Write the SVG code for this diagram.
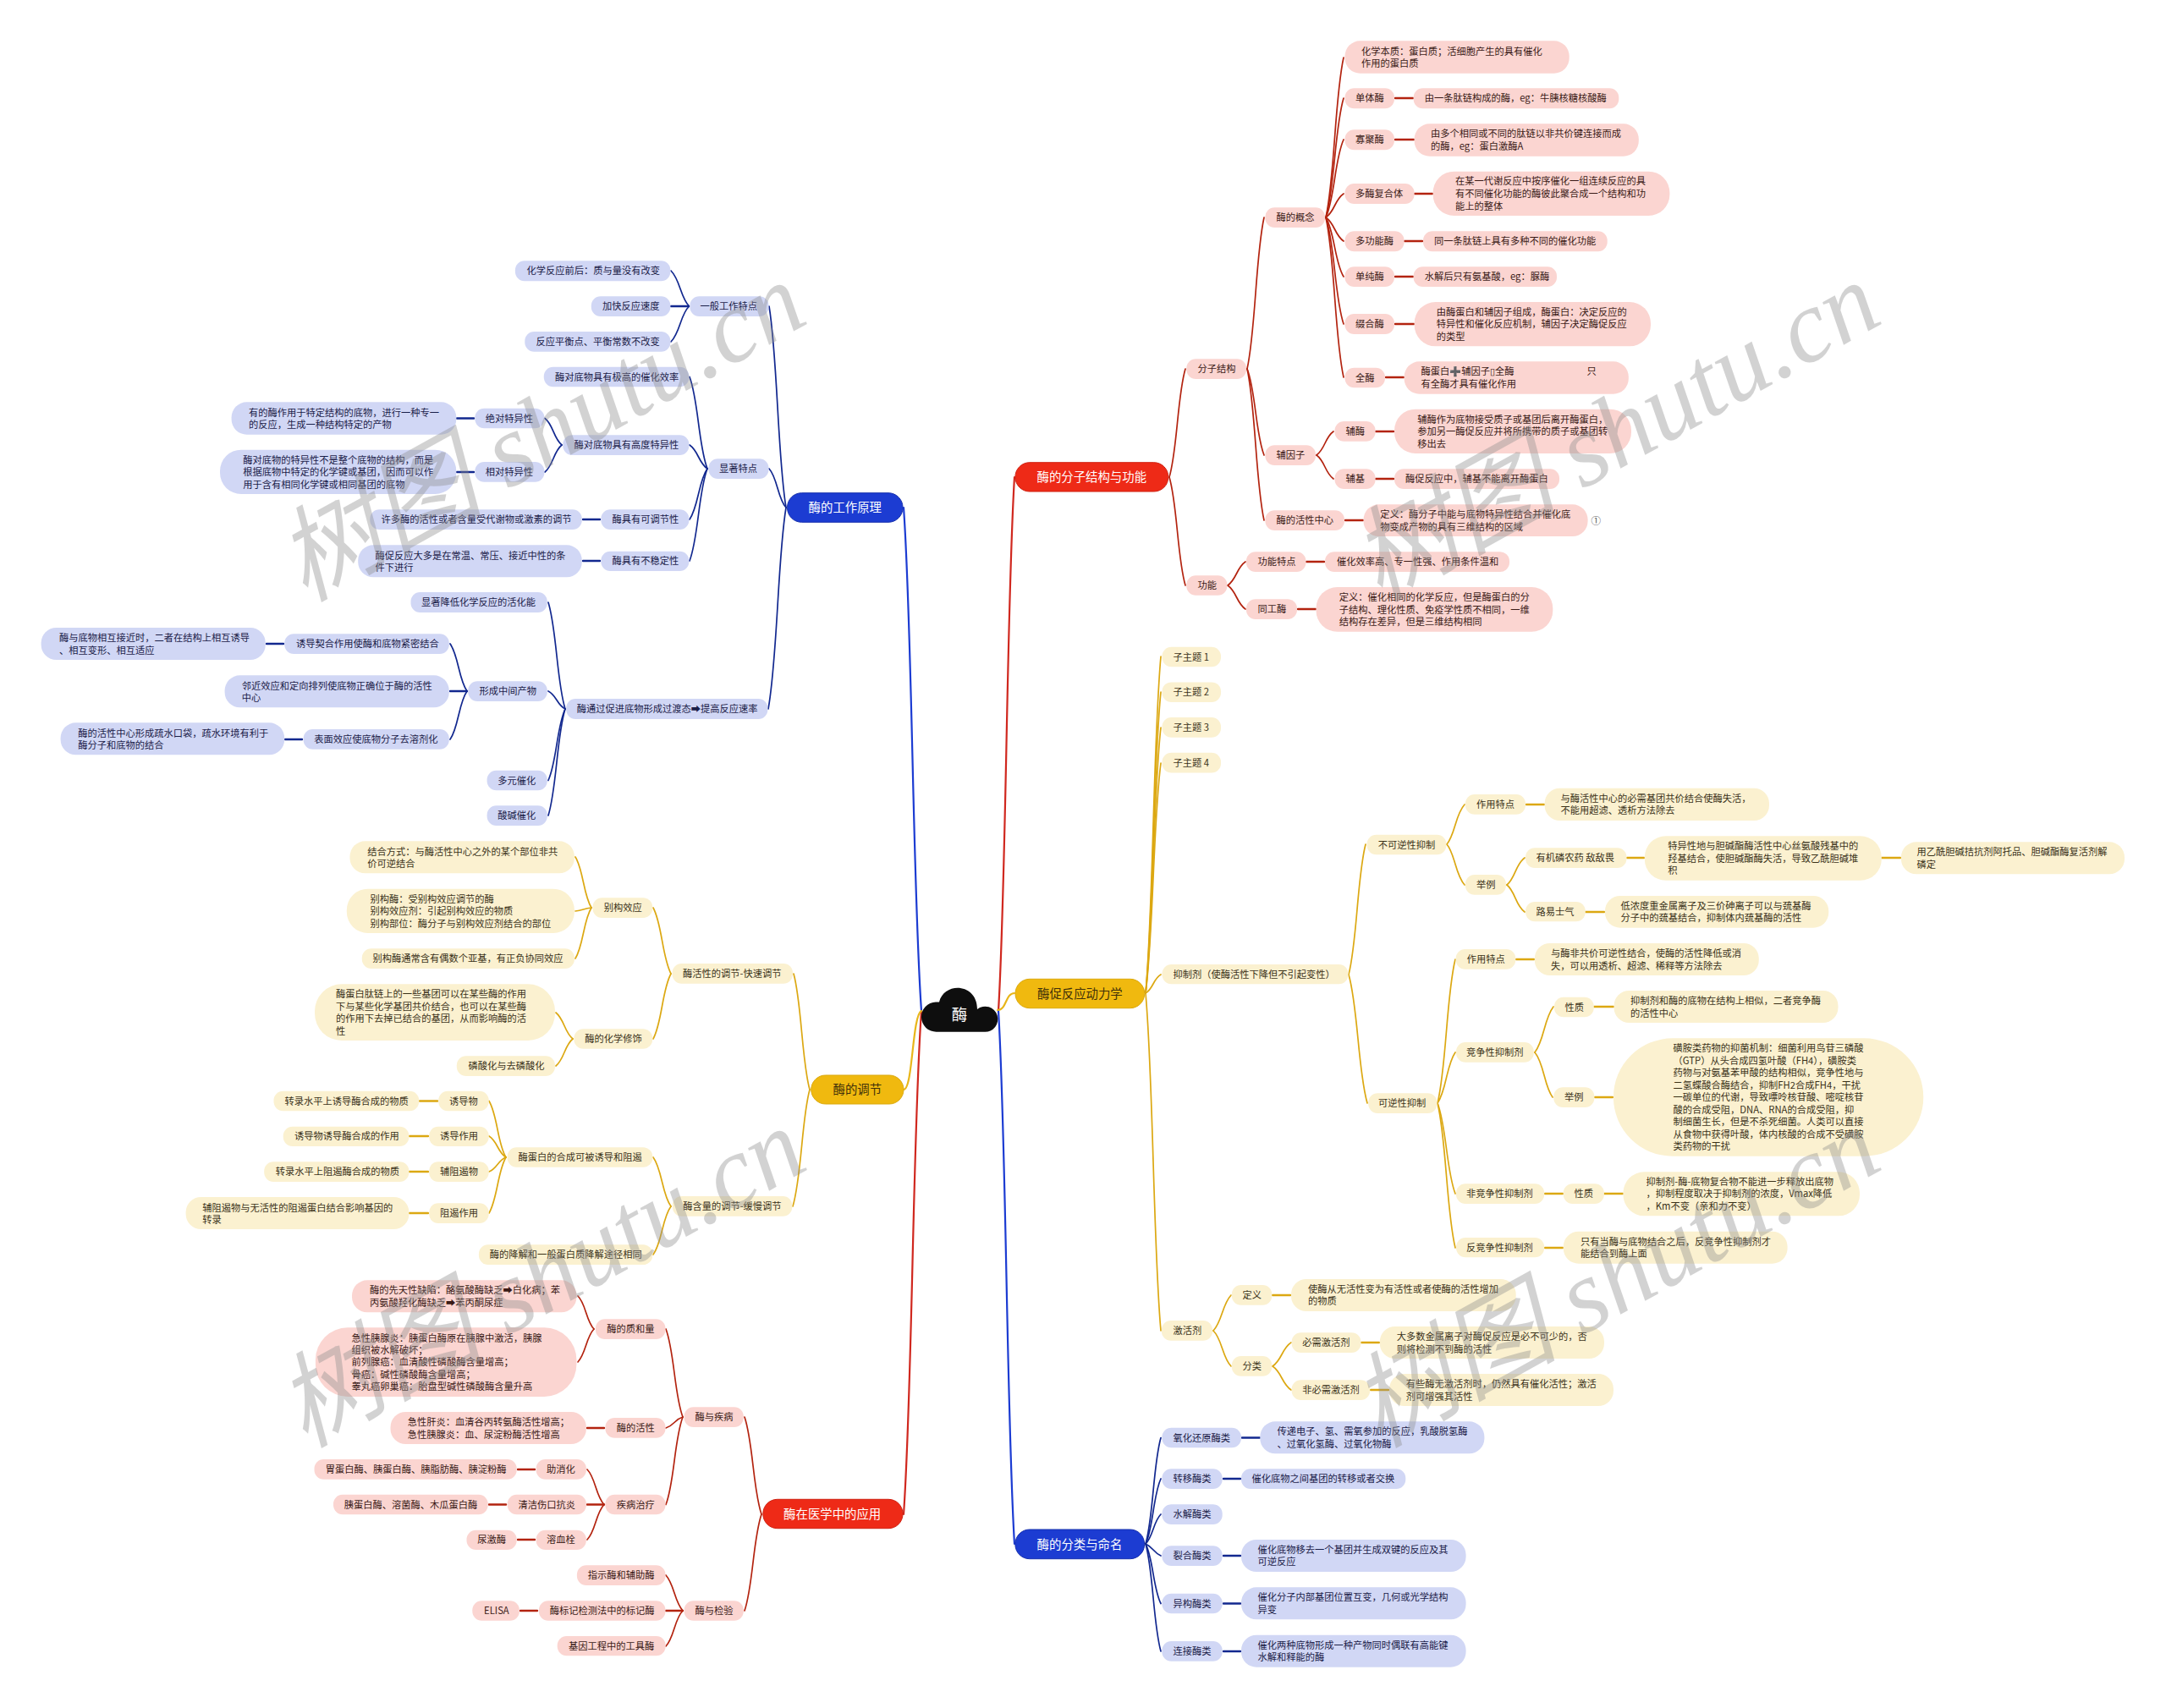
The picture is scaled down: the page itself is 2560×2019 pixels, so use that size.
<svg xmlns="http://www.w3.org/2000/svg" width="2560" height="2019" viewBox="0 0 2560 2019">
<style>
text{font-family:"Noto Sans CJK SC","Noto Sans",sans-serif;font-size:11.25px}
.R rect{fill:#fbd5d1}.R text{fill:#3a1a16}
.B rect{fill:#d1d7f5}.B text{fill:#1a2048}
.Y rect{fill:#fbf1d0}.Y text{fill:#3a3118}
.s rect{rx:11px}.d rect{rx:18px}.t rect{rx:25px}
.m rect{rx:17px;stroke-width:1}.m text{font-size:14.4px}
.R.m rect{fill:#ee2a17;stroke:#cf2212}.R.m text{fill:#fff}
.B.m rect{fill:#1c3cd2;stroke:#1730ad}.B.m text{fill:#fff}
.Y.m rect{fill:#f0b90f;stroke:#dba90e}.Y.m text{fill:#40300a}
#connectors path{fill:none;stroke-linecap:round}
.a{stroke-width:2.2}.b{stroke-width:1.7}.l{stroke-width:2.4}
.ra{stroke:#d0281f}.ba{stroke:#1c3cd2}.ya{stroke:#e8b61a}
.rb{stroke:#b3230f}.bb{stroke:#12288f}.yb{stroke:#dca812}
.wm{font-family:"Liberation Serif","Noto Sans CJK SC",serif;font-size:122px;font-style:italic;fill:#8c8c8c;opacity:.38}
</style>
<g id="connectors">
<g class="a ra">
<path d="M1180 1195C1189.500 1037 1189.500 722 1199 564"/>
<path d="M1089 1195C1078.500 1344 1078.500 1641 1068 1790"/>
</g>
<g class="a ba">
<path d="M1180 1195C1189.500 1353 1189.500 1667 1199 1825"/>
<path d="M1089 1195C1078.500 1046 1078.500 749 1068 600"/>
</g>
<g class="a ya">
<path d="M1179 1194C1190 1194 1188 1174 1199 1174"/>
<path d="M1089 1195C1078 1200 1079 1288 1068 1288"/>
</g>
<g class="b rb">
<path d="M1382 564C1391.500 532 1391.500 468 1401 436"/>
<path d="M1382 564C1391.500 596 1391.500 660 1401 692"/>
<path d="M1474 436C1484 391 1484 302 1494 257"/>
<path d="M1474 436C1484 461 1484 513 1494 538"/>
<path d="M1474 436C1484 481 1484 570 1494 615"/>
<path d="M1567 257C1577.500 210 1577.500 115 1588 68"/>
<path d="M1567 257C1577.500 222 1577.500 151 1588 116"/>
<path d="M1567 257C1577.500 234 1577.500 188 1588 165"/>
<path d="M1567 257C1577.500 250 1577.500 236 1588 229"/>
<path d="M1567 257C1577.500 264 1577.500 278 1588 285"/>
<path d="M1567 257C1577.500 275 1577.500 310 1588 327"/>
<path d="M1567 257C1577.500 288 1577.500 352 1588 383"/>
<path d="M1567 257C1577.500 304 1577.500 399 1588 446"/>
<path d="M1556 538C1566 531 1566 517 1576 510"/>
<path d="M1556 538C1566 545 1566 559 1576 566"/>
<path d="M1451 692C1461.500 685 1461.500 671 1472 664"/>
<path d="M1451 692C1461.500 699 1461.500 713 1472 720"/>
<path d="M900 1790C890 1761 890 1704 880 1675"/>
<path d="M900 1790C890 1819 890 1875 880 1904"/>
<path d="M807 1675C797 1649 797 1597 787 1571"/>
<path d="M807 1675C797 1678 797 1685 787 1688"/>
<path d="M807 1675C797 1701 797 1753 787 1778.500"/>
<path d="M702 1571C692.500 1561 692.500 1541 683 1532"/>
<path d="M702 1571C692.500 1581 692.500 1600 683 1610"/>
<path d="M714 1778.500C704 1768 704 1747 694 1737"/>
<path d="M714 1778.500C704 1789 704 1810 694 1820"/>
<path d="M807 1904C797 1893 797 1873 787 1862"/>
<path d="M807 1904C797 1914 797 1935 787 1946"/>
</g>
<g class="l rb">
<path d="M1649 116H1670"/><path d="M1649 165H1671"/><path d="M1672 229H1693"/><path d="M1660 285H1681"/><path d="M1649 327H1670"/><path d="M1649 383H1671"/><path d="M1638 446H1659"/>
<path d="M1626 510H1647"/><path d="M1626 566H1647"/><path d="M1590 615H1611"/><path d="M1544 664H1565"/><path d="M1534 720H1555"/>
<path d="M714 1688H694"/><path d="M714 1778.500H694"/><path d="M632 1737H612"/><path d="M598 1778.500H578"/><path d="M632 1820H612"/><path d="M807 1904H787"/><path d="M635 1904H615"/>
</g>
<g class="b yb">
<path d="M1354 1174C1363 1074 1363 876 1372 776"/>
<path d="M1354 1174C1363 1085 1363 907 1372 818"/>
<path d="M1354 1174C1363 1095 1363 939 1372 860"/>
<path d="M1354 1174C1363 1106 1363 970 1372 902"/>
<path d="M1354 1174C1363 1169 1363 1157 1372 1152"/>
<path d="M1354 1174C1363 1274 1363 1473 1372 1573"/>
<path d="M1594 1152C1604 1113 1604 1037 1614 998"/>
<path d="M1594 1152C1605 1190 1605 1266 1616 1304"/>
<path d="M1710 998C1720 986 1720 963 1731 951"/>
<path d="M1710 998C1720 1010 1720 1034 1731 1046"/>
<path d="M1781 1046C1791 1038 1791 1022 1802 1014"/>
<path d="M1781 1046C1791 1054 1791 1070 1802 1078"/>
<path d="M1699 1304C1709.500 1262 1709.500 1176 1720 1134"/>
<path d="M1699 1304C1709.500 1289 1709.500 1259 1720 1244"/>
<path d="M1699 1304C1709.500 1331 1709.500 1384 1720 1411"/>
<path d="M1699 1304C1709.500 1347 1709.500 1432 1720 1475"/>
<path d="M1814 1244C1825 1230 1825 1204 1836 1190"/>
<path d="M1814 1244C1825 1257 1825 1284 1835 1297"/>
<path d="M1434 1573C1444.500 1562 1444.500 1542 1455 1531"/>
<path d="M1434 1573C1444.500 1583 1444.500 1604 1455 1615"/>
<path d="M1504 1615C1515 1608 1515 1594 1526 1587"/>
<path d="M1504 1615C1515 1622 1515 1636 1526 1643"/>
<path d="M957 1288C947.500 1254 947.500 1185 938 1151"/>
<path d="M957 1288C947.500 1322 947.500 1391 937 1426"/>
<path d="M793 1151C782.500 1131 782.500 1092 772 1073"/>
<path d="M793 1151C782.500 1170 782.500 1209 772 1228"/>
<path d="M699 1073C689.500 1058 689.500 1028 680 1013"/>
<path d="M699 1073C689.500 1074 689.500 1076 680 1077"/>
<path d="M699 1073C689.500 1088 689.500 1118 680 1133"/>
<path d="M677 1228C667 1220 667 1205 657 1197"/>
<path d="M677 1228C667 1236 667 1252 657 1260"/>
<path d="M793 1426C782.500 1412 782.500 1382 772 1368"/>
<path d="M793 1426C782.500 1440 782.500 1469 772 1483"/>
<path d="M598 1368C588 1352 588 1318 578 1301.500"/>
<path d="M598 1368C588 1362 588 1349 578 1343"/>
<path d="M598 1368C588 1372 588 1381 578 1385"/>
<path d="M598 1368C588 1385 588 1417 578 1434"/>
</g>
<g class="l yb">
<path d="M1804 951H1825"/><path d="M1923 1014H1943"/><path d="M2224 1014H2246"/><path d="M1874 1078H1896"/><path d="M1792 1134H1813"/>
<path d="M1884 1190H1907"/><path d="M1885 1297H1906"/><path d="M1826 1411H1847"/><path d="M1896 1411H1918"/><path d="M1826 1475H1847"/>
<path d="M1504 1531H1525"/><path d="M1609 1587H1630"/><path d="M1620 1643H1641"/>
<path d="M517 1301.500H496"/><path d="M506 1343H484"/><path d="M506 1385H484"/><path d="M506 1434H484"/>
</g>
<g class="b bb">
<path d="M1354 1825C1363 1794 1363 1731 1372 1699.500"/>
<path d="M1354 1825C1363 1806 1363 1767 1372 1748"/>
<path d="M1354 1825C1363 1816 1363 1799 1372 1790"/>
<path d="M1354 1825C1363 1829 1363 1835 1372 1839"/>
<path d="M1354 1825C1363 1843 1363 1878 1372 1895.500"/>
<path d="M1354 1825C1363 1857 1363 1920 1372 1952"/>
<path d="M929 600C919 540 919 422 909 362"/>
<path d="M929 600C919 589 919 565 909 554"/>
<path d="M929 600C919 660 919 778 908 838"/>
<path d="M814.500 362C804 351 804 331 793 320"/>
<path d="M814.500 362C804 372 804 393 793 404"/>
<path d="M836 554C825.500 527 825.500 473 815 445.500"/>
<path d="M836 554C825.500 547 825.500 533 815 526"/>
<path d="M836 554C825.500 569 825.500 599 815 614"/>
<path d="M836 554C825.500 581 825.500 636 815 663"/>
<path d="M664 526C654 518 654 502 644 494.500"/>
<path d="M664 526C654 534 654 550 644 558"/>
<path d="M668 838C658 806 658 744 648 712"/>
<path d="M668 838C658 833 658 822 648 817"/>
<path d="M668 838C658 859 658 901 648 922.500"/>
<path d="M668 838C658 870 658 932 648 964"/>
<path d="M552 817C542 803 542 775 532 761"/>
<path d="M552 817C542 831 542 860 532 874"/>
</g>
<g class="l bb">
<path d="M1468 1699.500H1489"/><path d="M1446 1748H1466"/><path d="M1446 1839H1466"/><path d="M1446 1895.500H1466"/><path d="M1446 1952H1466"/>
<path d="M814 362H793"/><path d="M560 494.500H540"/><path d="M560 558H540"/><path d="M709 614H689"/><path d="M709 663H689"/>
<path d="M552 817H532"/><path d="M335 761H315"/><path d="M357 874H337"/>
</g>
</g>

<g id="root">
<path d="M1107 1219.700a17.500 17.500 0 0 1-1-35.200L1110 1184.500C1116 1160 1155 1162 1155 1193A15 15 0 1 1 1163.500 1219.700Z" fill="#0e0e0e"/>
<text x="1134" y="1205.500" text-anchor="middle" style="font-size:18.500px" fill="#fff">酶</text>
</g>

<g id="m1" class="R m"><rect x="1199.900" y="546.700" width="180.900" height="34.300"/><text x="1225.500" y="569">酶的分子结构与功能</text></g>
<g id="m2" class="Y m"><rect x="1200" y="1157.300" width="152.700" height="34.400"/><text x="1226" y="1179.700">酶促反应动力学</text></g>
<g id="m3" class="B m"><rect x="1199.900" y="1808" width="152.700" height="34.700"/><text x="1225.600" y="1830.500">酶的分类与命名</text></g>
<g id="m4" class="B m"><rect x="930.500" y="582.700" width="136.500" height="34.600"/><text x="955.600" y="605.200">酶的工作原理</text></g>
<g id="m5" class="Y m"><rect x="958.700" y="1271" width="109.300" height="34"/><text x="984.500" y="1293">酶的调节</text></g>
<g id="m6" class="R m"><rect x="901.800" y="1772.300" width="165.200" height="34.400"/><text x="926.100" y="1794.700">酶在医学中的应用</text></g>

<g id="r1" class="R d"><rect x="1589.500" y="48.300" width="265.200" height="38.400"/><text><tspan x="1609" y="64.700">化学本质：蛋白质；活细胞产生的具有催化</tspan><tspan x="1609" y="79">作用的蛋白质</tspan></text></g>
<g id="r2" class="R s"><rect x="1589.500" y="104.300" width="58.500" height="24"/><text x="1602" y="120.300">单体酶</text></g>
<g id="r3" class="R s"><rect x="1670.600" y="104.300" width="242.700" height="24"/><text x="1683.700" y="120.300">由一条肽链构成的酶，eg：牛胰核糖核酸酶</text></g>
<g id="r4" class="R s"><rect x="1589.500" y="153.300" width="58.500" height="24"/><text x="1602" y="169.300">寡聚酶</text></g>
<g id="r5" class="R d"><rect x="1671.600" y="146.300" width="265.200" height="38.400"/><text><tspan x="1691" y="162.300">由多个相同或不同的肽链以非共价键连接而成</tspan><tspan x="1691" y="177">的酶，eg：蛋白激酶A</tspan></text></g>
<g id="r6" class="R s"><rect x="1589.500" y="217" width="82.100" height="24"/><text x="1602" y="233">多酶复合体</text></g>
<g id="r7" class="R t"><rect x="1693.600" y="202.700" width="279.800" height="52.300"/><text><tspan x="1720" y="218.300">在某一代谢反应中按序催化一组连续反应的具</tspan><tspan x="1720" y="233">有不同催化功能的酶彼此聚合成一个结构和功</tspan><tspan x="1720" y="247.700">能上的整体</tspan></text></g>
<g id="r8" class="R s"><rect x="1589.500" y="273.300" width="70.100" height="24"/><text x="1602" y="289.300">多功能酶</text></g>
<g id="r9" class="R s"><rect x="1682" y="273.300" width="217.700" height="24"/><text x="1695" y="289.300">同一条肽链上具有多种不同的催化功能</text></g>
<g id="r10" class="R s"><rect x="1589.500" y="315.300" width="58.500" height="23.700"/><text x="1602" y="331.300">单纯酶</text></g>
<g id="r11" class="R s"><rect x="1670.600" y="315.300" width="169.400" height="23.700"/><text x="1683.700" y="331.300">水解后只有氨基酸，eg：脲酶</text></g>
<g id="r12" class="R s"><rect x="1589.500" y="371" width="58.500" height="24"/><text x="1602" y="387">缀合酶</text></g>
<g id="r13" class="R t"><rect x="1671.600" y="357" width="279.400" height="52.300"/><text><tspan x="1697.800" y="373">由酶蛋白和辅因子组成，酶蛋白：决定反应的</tspan><tspan x="1697.800" y="387.300">特异性和催化反应机制，辅因子决定酶促反应</tspan><tspan x="1697.800" y="401.700">的类型</tspan></text></g>
<g id="r14" class="R s"><rect x="1589.500" y="434.700" width="47.500" height="23.600"/><text x="1602" y="450.500">全酶</text></g>
<g id="r15" class="R d"><rect x="1659.600" y="427.300" width="265.200" height="38.400"/><text><tspan x="1679.500" y="443.300">酶蛋白➕辅因子▯全酶</tspan><tspan x="1875.600" y="443.300">只</tspan><tspan x="1679.500" y="458">有全酶才具有催化作用</tspan></text></g>
<g id="r16" class="R s"><rect x="1495.400" y="245.300" width="70.600" height="23.700"/><text x="1508.500" y="261.200">酶的概念</text></g>
<g id="r17" class="R s"><rect x="1402.300" y="424.300" width="70.700" height="23.700"/><text x="1415.400" y="440.200">分子结构</text></g>
<g id="r18" class="R s"><rect x="1577.500" y="498" width="48.100" height="23.700"/><text x="1590.600" y="513.800">辅酶</text></g>
<g id="r19" class="R t"><rect x="1648" y="483.700" width="280" height="52.300"/><text><tspan x="1675.300" y="499.700">辅酶作为底物接受质子或基团后离开酶蛋白，</tspan><tspan x="1675.300" y="514.300">参加另一酶促反应并将所携带的质子或基团转</tspan><tspan x="1675.300" y="529">移出去</tspan></text></g>
<g id="r20" class="R s"><rect x="1577.500" y="554.300" width="48.100" height="23.700"/><text x="1590.600" y="570.200">辅基</text></g>
<g id="r21" class="R s"><rect x="1648" y="554.300" width="195" height="23.700"/><text x="1661" y="570.200">酶促反应中，辅基不能离开酶蛋白</text></g>
<g id="r22" class="R s"><rect x="1495.400" y="526.300" width="59.600" height="23.700"/><text x="1508.500" y="542.200">辅因子</text></g>
<g id="r23" class="R s"><rect x="1495.400" y="603.300" width="93.600" height="23.700"/><text x="1508.500" y="619.200">酶的活性中心</text></g>
<g id="r24" class="R d"><rect x="1611.500" y="596.300" width="265.100" height="37.700"/><text><tspan x="1631.300" y="612.300">定义：酶分子中能与底物特异性结合并催化底</tspan><tspan x="1631.300" y="627">物变成产物的具有三维结构的区域</tspan></text></g>
<text id="r24mark" x="1880.500" y="619.500" style="font-size:11.500px" fill="#555">①</text>
<g id="r25" class="R s"><rect x="1472.900" y="652.300" width="70.600" height="23.700"/><text x="1486.500" y="668.200">功能特点</text></g>
<g id="r26" class="R s"><rect x="1566" y="652.300" width="218" height="23.700"/><text x="1580" y="668.200">催化效率高、专一性强、作用条件温和</text></g>
<g id="r27" class="R s"><rect x="1402.300" y="680.300" width="48.100" height="23.400"/><text x="1415.400" y="696">功能</text></g>
<g id="r28" class="R s"><rect x="1472.900" y="708.300" width="60.100" height="23.700"/><text x="1486.500" y="724.200">同工酶</text></g>
<g id="r29" class="R t"><rect x="1555.500" y="694" width="279.800" height="52.700"/><text><tspan x="1582.700" y="710.300">定义：催化相同的化学反应，但是酶蛋白的分</tspan><tspan x="1582.700" y="724.700">子结构、理化性质、免疫学性质不相同，一维</tspan><tspan x="1582.700" y="739">结构存在差异，但是三维结构相同</tspan></text></g>

<g id="y1" class="Y s"><rect x="1373.500" y="764.700" width="69.500" height="23.600"/><text x="1386.600" y="780.500">子主题 1</text></g>
<g id="y2" class="Y s"><rect x="1373.500" y="806.400" width="69.500" height="23.600"/><text x="1386.600" y="822.200">子主题 2</text></g>
<g id="y3" class="Y s"><rect x="1373.500" y="848.100" width="69.500" height="23.600"/><text x="1386.600" y="863.900">子主题 3</text></g>
<g id="y4" class="Y s"><rect x="1373.500" y="889.800" width="69.500" height="23.600"/><text x="1386.600" y="905.600">子主题 4</text></g>
<g id="y5" class="Y s"><rect x="1373.500" y="1140" width="220" height="23.300"/><text x="1386.600" y="1155.700">抑制剂（使酶活性下降但不引起变性）</text></g>
<g id="y6" class="Y s"><rect x="1615.600" y="986.700" width="93.800" height="23.600"/><text x="1628.800" y="1002.500">不可逆性抑制</text></g>
<g id="y7" class="Y s"><rect x="1731.900" y="939" width="71.100" height="23.700"/><text x="1745" y="954.800">作用特点</text></g>
<g id="y8" class="Y d"><rect x="1825.600" y="931.700" width="265.400" height="38.300"/><text><tspan x="1844.400" y="947.700">与酶活性中心的必需基团共价结合使酶失活，</tspan><tspan x="1844.400" y="962.300">不能用超滤、透析方法除去</tspan></text></g>
<g id="y9" class="Y s"><rect x="1731.900" y="1034" width="48.100" height="23.700"/><text x="1745" y="1049.800">举例</text></g>
<g id="y10" class="Y s"><rect x="1803" y="1002.300" width="119.500" height="23.700"/><text x="1815.600" y="1018.200">有机磷农药 敌敌畏</text></g>
<g id="y11" class="Y t"><rect x="1943.800" y="988.300" width="280" height="52.400"/><text><tspan x="1971.300" y="1004">特异性地与胆碱酯酶活性中心丝氨酸残基中的</tspan><tspan x="1971.300" y="1018.700">羟基结合，使胆碱酯酶失活，导致乙酰胆碱堆</tspan><tspan x="1971.300" y="1032.700">积</tspan></text></g>
<g id="y12" class="Y d"><rect x="2246.900" y="995.300" width="264.100" height="38"/><text><tspan x="2265.600" y="1011.300">用乙酰胆碱拮抗剂阿托品、胆碱酯酶复活剂解</tspan><tspan x="2265.600" y="1026">磷定</tspan></text></g>
<g id="y13" class="Y s"><rect x="1803" y="1066" width="70.800" height="23.300"/><text x="1815.600" y="1081.700">路易士气</text></g>
<g id="y14" class="Y d"><rect x="1896.900" y="1059" width="264.400" height="37.700"/><text><tspan x="1915.600" y="1075">低浓度重金属离子及三价砷离子可以与巯基酶</tspan><tspan x="1915.600" y="1089">分子中的巯基结合，抑制体内巯基酶的活性</tspan></text></g>
<g id="y15" class="Y s"><rect x="1617.200" y="1292.300" width="81.300" height="23.700"/><text x="1629" y="1308.200">可逆性抑制</text></g>
<g id="y16" class="Y s"><rect x="1720.600" y="1122" width="70.700" height="23.700"/><text x="1733.800" y="1137.800">作用特点</text></g>
<g id="y17" class="Y d"><rect x="1813.800" y="1115" width="265" height="38"/><text><tspan x="1833" y="1131.300">与酶非共价可逆性结合，使酶的活性降低或消</tspan><tspan x="1833" y="1145.700">失，可以用透析、超滤、稀释等方法除去</tspan></text></g>
<g id="y18" class="Y s"><rect x="1721" y="1232" width="91.800" height="23.700"/><text x="1732.900" y="1247.800">竞争性抑制剂</text></g>
<g id="y19" class="Y s"><rect x="1836.900" y="1178.700" width="46.900" height="23.600"/><text x="1849.400" y="1194.500">性质</text></g>
<g id="y20" class="Y d"><rect x="1907.500" y="1171" width="265" height="38"/><text><tspan x="1926.900" y="1187.300">抑制剂和酶的底物在结构上相似，二者竞争酶</tspan><tspan x="1926.900" y="1201.700">的活性中心</tspan></text></g>
<g id="y21" class="Y s"><rect x="1836.200" y="1285.300" width="48.200" height="23.700"/><text x="1849" y="1301.200">举例</text></g>
<g id="y22" class="Y"><rect x="1906.900" y="1227.300" width="366.400" height="139.400" rx="70"/><text><tspan x="1977.600" y="1243.300">磺胺类药物的抑菌机制：细菌利用鸟苷三磷酸</tspan><tspan x="1977.600" y="1258">（GTP）从头合成四氢叶酸（FH4），磺胺类</tspan><tspan x="1977.600" y="1272.300">药物与对氨基苯甲酸的结构相似，竞争性地与</tspan><tspan x="1977.600" y="1286.700">二氢蝶酸合酶结合，抑制FH2合成FH4，干扰</tspan><tspan x="1977.600" y="1301">一碳单位的代谢，导致嘌呤核苷酸、嘧啶核苷</tspan><tspan x="1977.600" y="1315.700">酸的合成受阻，DNA、RNA的合成受阻，抑</tspan><tspan x="1977.600" y="1330.300">制细菌生长，但是不杀死细菌。人类可以直接</tspan><tspan x="1977.600" y="1345">从食物中获得叶酸，体内核酸的合成不受磺胺</tspan><tspan x="1977.600" y="1359">类药物的干扰</tspan></text></g>
<g id="y23" class="Y s"><rect x="1721" y="1399.300" width="104.200" height="23.700"/><text x="1732.900" y="1415.200">非竞争性抑制剂</text></g>
<g id="y24" class="Y s"><rect x="1847.700" y="1399.300" width="48.200" height="23.700"/><text x="1860.500" y="1415.200">性质</text></g>
<g id="y25" class="Y t"><rect x="1918.400" y="1385.300" width="279.600" height="52"/><text><tspan x="1945.500" y="1401">抑制剂-酶-底物复合物不能进一步释放出底物</tspan><tspan x="1945.500" y="1415.300">，抑制程度取决于抑制剂的浓度，Vmax降低</tspan><tspan x="1945.500" y="1429.700">，Km不变（亲和力不变）</tspan></text></g>
<g id="y26" class="Y s"><rect x="1721" y="1463" width="104.200" height="23.300"/><text x="1732.900" y="1478.700">反竞争性抑制剂</text></g>
<g id="y27" class="Y d"><rect x="1847.700" y="1455.700" width="264.900" height="38"/><text><tspan x="1867.900" y="1471.700">只有当酶与底物结合之后，反竞争性抑制剂才</tspan><tspan x="1867.900" y="1486">能结合到酶上面</tspan></text></g>
<g id="y28" class="Y s"><rect x="1372.900" y="1561" width="60.100" height="23.700"/><text x="1386.500" y="1576.800">激活剂</text></g>
<g id="y29" class="Y s"><rect x="1455.800" y="1519" width="47.500" height="23.700"/><text x="1468.400" y="1534.800">定义</text></g>
<g id="y30" class="Y d"><rect x="1526" y="1512" width="265.700" height="38"/><text><tspan x="1546" y="1527.700">使酶从无活性变为有活性或者使酶的活性增加</tspan><tspan x="1546" y="1542">的物质</tspan></text></g>
<g id="y31" class="Y s"><rect x="1455.800" y="1603" width="47.500" height="23.700"/><text x="1468.400" y="1618.800">分类</text></g>
<g id="y32" class="Y s"><rect x="1526.600" y="1575.300" width="81.900" height="23.700"/><text x="1539.200" y="1591.200">必需激活剂</text></g>
<g id="y33" class="Y d"><rect x="1630.800" y="1568" width="265.200" height="38"/><text><tspan x="1650.700" y="1584">大多数金属离子对酶促反应是必不可少的，否</tspan><tspan x="1650.700" y="1598.700">则将检测不到酶的活性</tspan></text></g>
<g id="y34" class="Y s"><rect x="1526.600" y="1631.300" width="92.600" height="23.700"/><text x="1539.200" y="1647.200">非必需激活剂</text></g>
<g id="y35" class="Y d"><rect x="1642" y="1624" width="265" height="38"/><text><tspan x="1661.800" y="1640">有些酶无激活剂时，仍然具有催化活性；激活</tspan><tspan x="1661.800" y="1654.700">剂可增强其活性</tspan></text></g>

<g id="b1" class="B s"><rect x="1373.400" y="1687.700" width="93.600" height="23.600"/><text x="1386.500" y="1703.500">氧化还原酶类</text></g>
<g id="b2" class="B d"><rect x="1489.300" y="1680.300" width="265.100" height="38"/><text><tspan x="1509.600" y="1696.300">传递电子、氢、需氧参加的反应，乳酸脱氢酶</tspan><tspan x="1509.600" y="1710.700">、过氧化氢酶、过氧化物酶</tspan></text></g>
<g id="b3" class="B s"><rect x="1373.400" y="1736.300" width="71.300" height="23.700"/><text x="1386.500" y="1752.200">转移酶类</text></g>
<g id="b4" class="B s"><rect x="1467" y="1736.300" width="194.300" height="23.700"/><text x="1479.600" y="1752.200">催化底物之间基团的转移或者交换</text></g>
<g id="b5" class="B s"><rect x="1373.400" y="1778.300" width="71.300" height="23.700"/><text x="1386.500" y="1794.200">水解酶类</text></g>
<g id="b6" class="B s"><rect x="1373.400" y="1827.300" width="71.300" height="23.700"/><text x="1386.500" y="1843.200">裂合酶类</text></g>
<g id="b7" class="B d"><rect x="1467" y="1820" width="265.600" height="38"/><text><tspan x="1486.400" y="1836">催化底物移去一个基团并生成双键的反应及其</tspan><tspan x="1486.400" y="1850.300">可逆反应</tspan></text></g>
<g id="b8" class="B s"><rect x="1373.400" y="1883.700" width="71.300" height="23.600"/><text x="1386.500" y="1899.500">异构酶类</text></g>
<g id="b9" class="B d"><rect x="1467" y="1876.300" width="265.600" height="38"/><text><tspan x="1486.400" y="1892.300">催化分子内部基团位置互变，几何或光学结构</tspan><tspan x="1486.400" y="1906.700">异变</tspan></text></g>
<g id="b10" class="B s"><rect x="1373.400" y="1940" width="71.300" height="23.700"/><text x="1386.500" y="1955.800">连接酶类</text></g>
<g id="b11" class="B d"><rect x="1467" y="1932.700" width="265.600" height="38"/><text><tspan x="1486.400" y="1948.700">催化两种底物形成一种产物同时偶联有高能键</tspan><tspan x="1486.400" y="1963">水解和释能的酶</tspan></text></g>

<g id="l1" class="B s"><rect x="608.900" y="308.300" width="183.500" height="24"/><text x="622.400" y="324.300">化学反应前后：质与量没有改变</text></g>
<g id="l2" class="B s"><rect x="698.800" y="350.300" width="93.600" height="23.700"/><text x="711.900" y="366.200">加快反应速度</text></g>
<g id="l3" class="B s"><rect x="620.300" y="392" width="172.100" height="23.700"/><text x="633.400" y="407.800">反应平衡点、平衡常数不改变</text></g>
<g id="l4" class="B s"><rect x="815.400" y="350.300" width="93.100" height="23.700"/><text x="827.500" y="366.200">一般工作特点</text></g>
<g id="l5" class="B s"><rect x="642.800" y="433.700" width="171.600" height="23.600"/><text x="655.900" y="449.500">酶对底物具有极高的催化效率</text></g>
<g id="l6" class="B d"><rect x="273.600" y="475.300" width="265.700" height="38.400"/><text><tspan x="294" y="491.700">有的酶作用于特定结构的底物，进行一种专一</tspan><tspan x="294" y="506.300">的反应，生成一种结构特定的产物</tspan></text></g>
<g id="l7" class="B s"><rect x="561.300" y="482.700" width="82.100" height="23.600"/><text x="573.800" y="498.500">绝对特异性</text></g>
<g id="l8" class="B s"><rect x="665.300" y="514.300" width="149.100" height="23.700"/><text x="678.400" y="530.200">酶对底物具有高度特异性</text></g>
<g id="l9" class="B t"><rect x="260" y="531.700" width="279.300" height="52.300"/><text><tspan x="287.200" y="548">酶对底物的特异性不是整个底物的结构，而是</tspan><tspan x="287.200" y="562.300">根据底物中特定的化学键或基团，因而可以作</tspan><tspan x="287.200" y="577">用于含有相同化学键或相同基团的底物</tspan></text></g>
<g id="l10" class="B s"><rect x="561.300" y="546" width="82.100" height="23.700"/><text x="573.800" y="561.800">相对特异性</text></g>
<g id="l11" class="B s"><rect x="837.400" y="542.300" width="71.100" height="23.700"/><text x="850" y="558.200">显著特点</text></g>
<g id="l12" class="B s"><rect x="437.300" y="602.300" width="250.500" height="23.700"/><text x="450.400" y="618.200">许多酶的活性或者含量受代谢物或激素的调节</text></g>
<g id="l13" class="B s"><rect x="710.300" y="602.300" width="104.100" height="23.700"/><text x="723.400" y="618.200">酶具有可调节性</text></g>
<g id="l14" class="B d"><rect x="423.200" y="644.300" width="264.600" height="38"/><text><tspan x="443.600" y="660.700">酶促反应大多是在常温、常压、接近中性的条</tspan><tspan x="443.600" y="675">件下进行</tspan></text></g>
<g id="l15" class="B s"><rect x="710.300" y="651.700" width="104.100" height="23.300"/><text x="723.400" y="667.300">酶具有不稳定性</text></g>
<g id="l16" class="B s"><rect x="485.500" y="700" width="161.300" height="24"/><text x="498" y="716">显著降低化学反应的活化能</text></g>
<g id="l17" class="B d"><rect x="48.600" y="742" width="265.200" height="38"/><text><tspan x="69.900" y="758.300">酶与底物相互接近时，二者在结构上相互诱导</tspan><tspan x="69.900" y="773">、相互变形、相互适应</tspan></text></g>
<g id="l18" class="B s"><rect x="336.200" y="749.300" width="194.600" height="23.700"/><text x="350" y="765.200">诱导契合作用使酶和底物紧密结合</text></g>
<g id="l19" class="B d"><rect x="265.600" y="798.300" width="265.200" height="38"/><text><tspan x="285.700" y="814.700">邻近效应和定向排列使底物正确位于酶的活性</tspan><tspan x="285.700" y="829">中心</tspan></text></g>
<g id="l20" class="B s"><rect x="553.200" y="805.300" width="93.600" height="23.700"/><text x="566.400" y="821.200">形成中间产物</text></g>
<g id="l21" class="B d"><rect x="71.600" y="854.300" width="264.600" height="38"/><text><tspan x="92.200" y="870.700">酶的活性中心形成疏水口袋，疏水环境有利于</tspan><tspan x="92.200" y="885.300">酶分子和底物的结合</tspan></text></g>
<g id="l22" class="B s"><rect x="358.600" y="862" width="172.200" height="23.700"/><text x="371.200" y="877.800">表面效应使底物分子去溶剂化</text></g>
<g id="l23" class="B s"><rect x="669.200" y="826" width="238.200" height="24"/><text x="681.800" y="842">酶通过促进底物形成过渡态➡提高反应速率</text></g>
<g id="l24" class="B s"><rect x="575.600" y="910.700" width="71.200" height="23.600"/><text x="588.200" y="926.500">多元催化</text></g>
<g id="l25" class="B s"><rect x="575.600" y="952.300" width="71.200" height="23.700"/><text x="588.200" y="968.200">酸碱催化</text></g>

<g id="j1" class="Y d"><rect x="413.500" y="994.300" width="265.400" height="38"/><text><tspan x="434.200" y="1010.700">结合方式：与酶活性中心之外的某个部位非共</tspan><tspan x="434.200" y="1025">价可逆结合</tspan></text></g>
<g id="j2" class="Y t"><rect x="409.800" y="1050.700" width="269.100" height="52.300"/><text><tspan x="437.400" y="1066.700">别构酶：受别构效应调节的酶</tspan><tspan x="437.400" y="1081">别构效应剂：引起别构效应的物质</tspan><tspan x="437.400" y="1095.700">别构部位：酶分子与别构效应剂结合的部位</tspan></text></g>
<g id="j3" class="Y s"><rect x="427.800" y="1121.300" width="251.100" height="23.700"/><text x="440.600" y="1137.200">别构酶通常含有偶数个亚基，有正负协同效应</text></g>
<g id="j4" class="Y s"><rect x="700.500" y="1061.300" width="70.700" height="23.700"/><text x="713.800" y="1077.200">别构效应</text></g>
<g id="j5" class="Y s"><rect x="794.600" y="1139" width="142.400" height="23.700"/><text x="807" y="1154.800">酶活性的调节-快速调节</text></g>
<g id="j6" class="Y"><rect x="372" y="1163.300" width="284" height="66.700" rx="32"/><text><tspan x="397" y="1179">酶蛋白肽链上的一些基团可以在某些酶的作用</tspan><tspan x="397" y="1193.700">下与某些化学基团共价结合，也可以在某些酶</tspan><tspan x="397" y="1208">的作用下去掉已结合的基团，从而影响酶的活</tspan><tspan x="397" y="1222.700">性</tspan></text></g>
<g id="j7" class="Y s"><rect x="678.400" y="1216.300" width="92.800" height="23.400"/><text x="691.300" y="1232">酶的化学修饰</text></g>
<g id="j8" class="Y s"><rect x="539.800" y="1248.300" width="116.200" height="23.700"/><text x="553.600" y="1264.200">磷酸化与去磷酸化</text></g>
<g id="j9" class="Y s"><rect x="323.500" y="1289.700" width="171.700" height="23.600"/><text x="336.400" y="1305.500">转录水平上诱导酶合成的物质</text></g>
<g id="j10" class="Y s"><rect x="518.200" y="1289.700" width="59.500" height="23.600"/><text x="531" y="1305.500">诱导物</text></g>
<g id="j11" class="Y s"><rect x="334.700" y="1331.700" width="148.700" height="23.300"/><text x="348.100" y="1347.300">诱导物诱导酶合成的作用</text></g>
<g id="j12" class="Y s"><rect x="507" y="1331.700" width="70.700" height="23.300"/><text x="519.900" y="1347.300">诱导作用</text></g>
<g id="j13" class="Y s"><rect x="312.200" y="1373.300" width="171.200" height="23.700"/><text x="325.700" y="1389.200">转录水平上阻遏酶合成的物质</text></g>
<g id="j14" class="Y s"><rect x="507" y="1373.300" width="70.700" height="23.700"/><text x="519.900" y="1389.200">辅阻遏物</text></g>
<g id="j15" class="Y d"><rect x="219.600" y="1415" width="263.800" height="38"/><text><tspan x="239.300" y="1431.700">辅阻遏物与无活性的阻遏蛋白结合影响基因的</tspan><tspan x="239.300" y="1446">转录</tspan></text></g>
<g id="j16" class="Y s"><rect x="507" y="1422.300" width="70.700" height="23.700"/><text x="519.900" y="1438.200">阻遏作用</text></g>
<g id="j17" class="Y s"><rect x="599.600" y="1356.300" width="171.700" height="23.400"/><text x="612.500" y="1372">酶蛋白的合成可被诱导和阻遏</text></g>
<g id="j18" class="Y s"><rect x="794.800" y="1414" width="141.500" height="23.700"/><text x="807.200" y="1429.800">酶含量的调节-缓慢调节</text></g>
<g id="j19" class="Y s"><rect x="565.900" y="1471.300" width="205.400" height="23.700"/><text x="578.800" y="1487.200">酶的降解和一般蛋白质降解途径相同</text></g>

<g id="k1" class="R d"><rect x="416" y="1513.300" width="265.400" height="38"/><text><tspan x="437.100" y="1529.300">酶的先天性缺陷：酪氨酸酶缺乏➡白化病；苯</tspan><tspan x="437.100" y="1543.700">丙氨酸羟化酶缺乏➡苯丙酮尿症</tspan></text></g>
<g id="k2" class="R"><rect x="372.900" y="1569.300" width="308.500" height="81.700" rx="38"/><text><tspan x="415.600" y="1585.700">急性胰腺炎：胰蛋白酶原在胰腺中激活，胰腺</tspan><tspan x="415.600" y="1600">组织被水解破坏；</tspan><tspan x="415.600" y="1614.300">前列腺癌：血清酸性磷酸酶含量增高；</tspan><tspan x="415.600" y="1629">骨癌：碱性磷酸酶含量增高；</tspan><tspan x="415.600" y="1643.300">睾丸癌卵巢癌：胎盘型碱性磷酸酶含量升高</tspan></text></g>
<g id="k3" class="R s"><rect x="703.900" y="1559.300" width="82.600" height="23.700"/><text x="717.200" y="1575.200">酶的质和量</text></g>
<g id="k4" class="R d"><rect x="461.500" y="1669" width="231.400" height="38"/><text><tspan x="481.700" y="1685">急性肝炎：血清谷丙转氨酶活性增高；</tspan><tspan x="481.700" y="1699.700">急性胰腺炎：血、尿淀粉酶活性增高</tspan></text></g>
<g id="k5" class="R s"><rect x="715.400" y="1676" width="71.100" height="23.700"/><text x="728.700" y="1691.800">酶的活性</text></g>
<g id="k6" class="R s"><rect x="808.600" y="1663.300" width="70.200" height="23.700"/><text x="821.400" y="1679.200">酶与疾病</text></g>
<g id="k7" class="R s"><rect x="371.500" y="1725" width="239.200" height="23.700"/><text x="384.800" y="1740.800">胃蛋白酶、胰蛋白酶、胰脂肪酶、胰淀粉酶</text></g>
<g id="k8" class="R s"><rect x="633.600" y="1725" width="59.300" height="23.700"/><text x="646" y="1740.800">助消化</text></g>
<g id="k9" class="R s"><rect x="394" y="1766.700" width="182.700" height="23.600"/><text x="406.800" y="1782.500">胰蛋白酶、溶菌酶、木瓜蛋白酶</text></g>
<g id="k10" class="R s"><rect x="599.700" y="1766.700" width="93.200" height="23.600"/><text x="612.500" y="1782.500">清洁伤口抗炎</text></g>
<g id="k11" class="R s"><rect x="715.400" y="1766.700" width="71.100" height="23.600"/><text x="728.700" y="1782.500">疾病治疗</text></g>
<g id="k12" class="R s"><rect x="551.500" y="1808.700" width="59.200" height="23.300"/><text x="564.300" y="1824.300">尿激酶</text></g>
<g id="k13" class="R s"><rect x="633.600" y="1808.700" width="59.300" height="23.300"/><text x="646" y="1824.300">溶血栓</text></g>
<g id="k14" class="R s"><rect x="681.900" y="1850.300" width="104.600" height="23.700"/><text x="694.700" y="1866.200">指示酶和辅助酶</text></g>
<g id="k15" class="R s"><rect x="558.300" y="1892.300" width="55.600" height="23.400"/><text x="572.100" y="1908">ELISA</text></g>
<g id="k16" class="R s"><rect x="636.900" y="1892.300" width="149.600" height="23.400"/><text x="649.700" y="1908">酶标记检测法中的标记酶</text></g>
<g id="k17" class="R s"><rect x="808.600" y="1892.300" width="70.200" height="23.400"/><text x="821.400" y="1908">酶与检验</text></g>
<g id="k18" class="R s"><rect x="658.700" y="1934" width="128" height="23.300"/><text x="672" y="1949.700">基因工程中的工具酶</text></g>

<g id="watermarks">
<text class="wm" transform="translate(360 712) rotate(-29)">树图 shutu.cn</text>
<text class="wm" transform="translate(1630 712) rotate(-29)">树图 shutu.cn</text>
<text class="wm" transform="translate(360 1712) rotate(-29)">树图 shutu.cn</text>
<text class="wm" transform="translate(1630 1712) rotate(-29)">树图 shutu.cn</text>
</g>
</svg>
